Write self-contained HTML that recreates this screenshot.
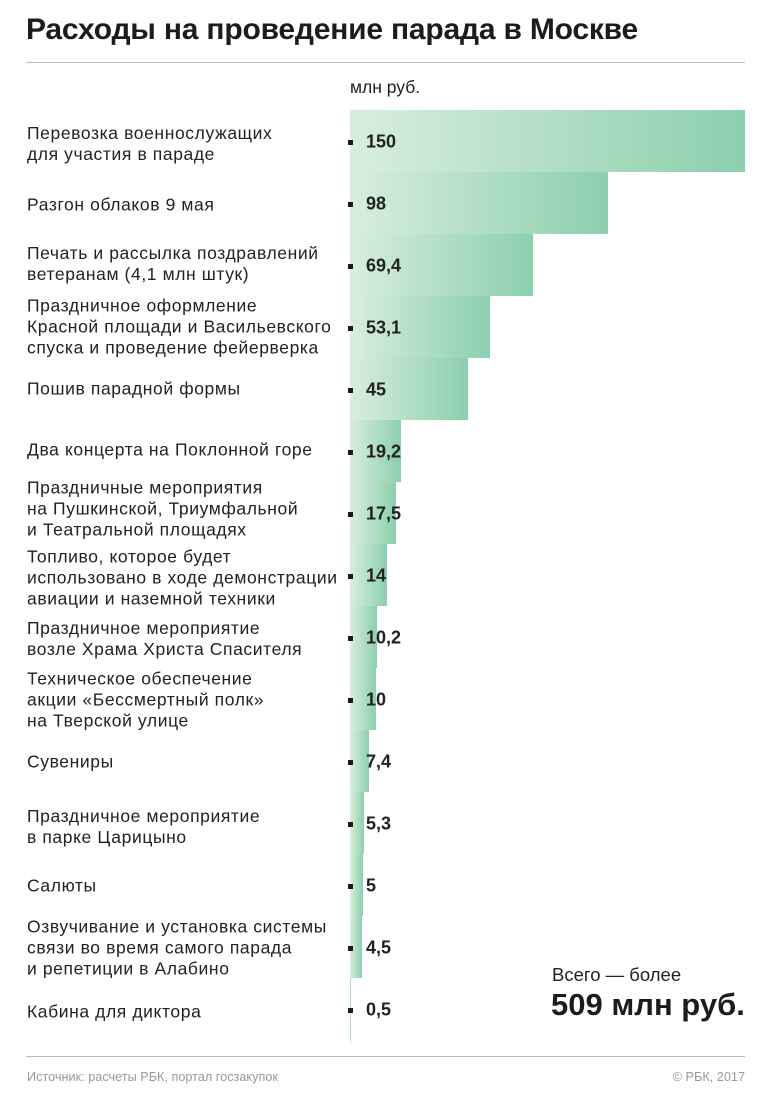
<!DOCTYPE html>
<html><head><meta charset="utf-8"><style>
body{margin:0;width:770px;height:1096px;background:#fff;font-family:"Liberation Sans",sans-serif;color:#222;position:relative;overflow:hidden}
.t{position:absolute;left:26px;top:13px;font-size:30px;font-weight:bold;color:#1c1c1c;letter-spacing:-0.2px}
.hr{position:absolute;left:26px;width:719px;height:1px;background:#bbb}
.lab{position:absolute;left:27px;font-size:17.5px;letter-spacing:0.6px;line-height:21px;color:#222;transform:translateY(-50%);white-space:nowrap}
.bar{position:absolute;left:350px;height:62px;background:linear-gradient(to right,#d8eeda,#8ccfae)}
.v{position:absolute;left:366px;font-size:18px;font-weight:bold;transform:translateY(-50%)}
.dot{position:absolute;left:348px;width:5px;height:5px;background:#1c1c1c}
</style></head><body>
<div class="t">Расходы на проведение парада в Москве</div>
<div class="hr" style="top:62px"></div>
<div style="position:absolute;left:350px;top:77px;font-size:17.5px">млн руб.</div>
<div style="position:absolute;left:350px;top:110px;width:1px;height:934px;background:#e2e2e2"></div>
<div id="c"></div>
<div style="position:absolute;left:552px;top:964px;font-size:18.5px">Всего — более</div>
<div style="position:absolute;left:551px;top:987px;font-size:31px;font-weight:bold;color:#1c1c1c">509 млн руб.</div>
<div class="hr" style="top:1056px"></div>
<div style="position:absolute;left:27px;top:1070px;font-size:12.7px;color:#999">Источник: расчеты РБК, портал госзакупок</div>
<div style="position:absolute;right:25px;top:1070px;font-size:12.7px;color:#999">© РБК, 2017</div>
<script>
var d=[[150,"Перевозка военнослужащих<br>для участия в параде"],[98,"Разгон облаков 9 мая"],[69.4,"Печать и рассылка поздравлений<br>ветеранам (4,1 млн штук)"],[53.1,"Праздничное оформление<br>Красной площади и Васильевского<br>спуска и проведение фейерверка"],[45,"Пошив парадной формы"],[19.2,"Два концерта на Поклонной горе"],[17.5,"Праздничные мероприятия<br>на Пушкинской, Триумфальной<br>и Театральной площадях"],[14,"Топливо, которое будет<br>использовано в ходе демонстрации<br>авиации и наземной техники"],[10.2,"Праздничное мероприятие<br>возле Храма Христа Спасителя"],[10,"Техническое обеспечение<br>акции «Бессмертный полк»<br>на Тверской улице"],[7.4,"Сувениры"],[5.3,"Праздничное мероприятие<br>в парке Царицыно"],[5,"Салюты"],[4.5,"Озвучивание и установка системы<br>связи во время самого парада<br>и репетиции в Алабино"],[0.5,"Кабина для диктора"]];
var ys=[144,205,264,327,389,450,509,578,639,700,762,827,886,948,1012];
var h="";
d.forEach(function(r,i){
 var top=110+62*i, w=Math.max(1,r[0]*2.633), c=142+62*i;
 h+='<div class="bar" style="top:'+top+'px;width:'+w+'px"></div>';
 h+='<div class="dot" style="top:'+(c-2)+'px"></div>';
 h+='<div class="v" style="top:'+c+'px">'+String(r[0]).replace(".",",")+'</div>';
 h+='<div class="lab" style="top:'+ys[i]+'px">'+r[1]+'</div>';
});
document.getElementById("c").innerHTML=h;
</script>
</body></html>
